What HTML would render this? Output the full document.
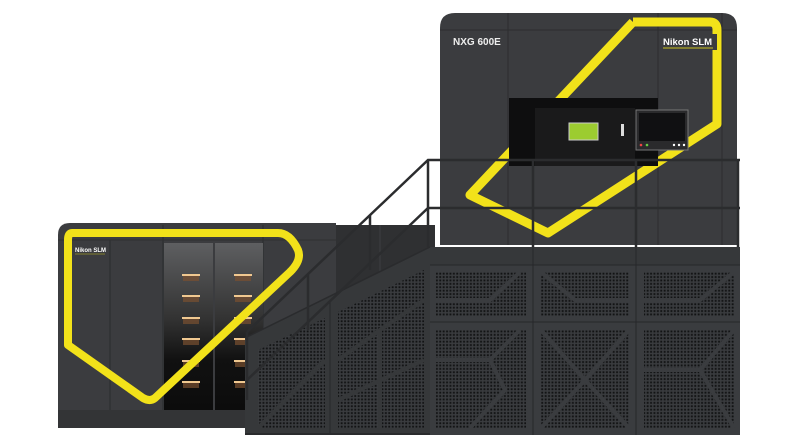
<!DOCTYPE html>
<html><head><style>html,body{margin:0;padding:0;background:#fff}svg{display:block}</style></head>
<body>
<svg width="800" height="445" viewBox="0 0 800 445" xmlns="http://www.w3.org/2000/svg">
<defs>
<pattern id="dots" width="3.4" height="3.4" patternUnits="userSpaceOnUse"><rect width="3.4" height="3.4" fill="#3a3c3f"/><rect x="0.7" y="0.7" width="1.9" height="1.9" fill="#121314"/></pattern>
<linearGradient id="glass" x1="0" y1="0" x2="0" y2="1"><stop offset="0" stop-color="#5e5f61"/><stop offset="0.45" stop-color="#333"/><stop offset="0.7" stop-color="#111"/><stop offset="1" stop-color="#0c0c0c"/></linearGradient>
</defs>
<rect width="800" height="445" fill="#fff"/>
<path d="M440 245 V28 Q440 13 455 13 H722 Q737 13 737 28 V245 Z" fill="#3b3c3f"/>
<line x1="440" y1="30" x2="737" y2="30" stroke="#2c2d2f" stroke-width="1"/>
<line x1="508" y1="13" x2="508" y2="245" stroke="#2c2d2f"/>
<line x1="658" y1="13" x2="658" y2="245" stroke="#2c2d2f"/>
<line x1="722" y1="13" x2="722" y2="245" stroke="#2c2d2f"/>
<path d="M633 22 H710 Q717 22 717 30 V124 L548 233 L470 195 L633 22" fill="none" stroke="#f2e21a" stroke-width="9" stroke-linejoin="round"/>
<text x="453" y="45" font-family="Liberation Sans,sans-serif" font-weight="bold" font-size="10" fill="#eee">NXG 600E</text>
<rect x="661" y="34" width="56" height="16" fill="#3b3c3f"/>
<text x="663" y="45" font-family="Liberation Sans,sans-serif" font-weight="bold" font-size="9.5" fill="#fff">Nikon SLM</text>
<line x1="663" y1="48" x2="713" y2="48" stroke="#c8c020" stroke-width="1"/>
<rect x="509" y="98" width="149" height="68" fill="#0e0e0f"/>
<rect x="535" y="108" width="100" height="58" fill="#1a1a1b"/>
<rect x="569" y="123" width="29" height="17" fill="#9ccc30" stroke="#ccc" stroke-width="1"/>
<rect x="621" y="124" width="3" height="12" fill="#ddd"/>
<rect x="636" y="110" width="52" height="40" fill="#2a2a2c" stroke="#777" stroke-width="1"/>
<rect x="639" y="113" width="46" height="28" fill="#101012"/>
<circle cx="641" cy="145" r="1.3" fill="#e44"/><circle cx="647" cy="145" r="1.3" fill="#6c4"/>
<circle cx="674" cy="145" r="1.2" fill="#fff"/><circle cx="679" cy="145" r="1.2" fill="#fff"/><circle cx="684" cy="145" r="1.2" fill="#fff"/>
<rect x="330" y="225" width="105" height="110" fill="#2f3032"/>
<line x1="380" y1="225" x2="380" y2="330" stroke="#3d3e41"/>
<path d="M58 425 V235 Q58 223 70 223 H336 V425 Z" fill="#3b3c3f"/>
<rect x="58" y="410" width="290" height="18" fill="#333436"/>
<line x1="110" y1="240" x2="110" y2="410" stroke="#2a2b2d"/>
<line x1="163" y1="225" x2="163" y2="410" stroke="#2a2b2d"/>
<line x1="263" y1="225" x2="263" y2="410" stroke="#2a2b2d"/>
<line x1="58" y1="240" x2="336" y2="240" stroke="#2f3032"/>
<rect x="164" y="243" width="49" height="167" fill="url(#glass)"/>
<rect x="215" y="243" width="48" height="167" fill="url(#glass)"/>
<g fill="#f0c890">
<rect x="182" y="274" width="18" height="2"/><rect x="234" y="274" width="18" height="2"/>
<rect x="182" y="295" width="18" height="2"/><rect x="234" y="295" width="18" height="2"/>
<rect x="182" y="317" width="18" height="2"/><rect x="234" y="317" width="18" height="2"/>
<rect x="182" y="338" width="18" height="2"/><rect x="234" y="338" width="18" height="2"/>
<rect x="182" y="360" width="18" height="2"/><rect x="234" y="360" width="18" height="2"/>
<rect x="182" y="381" width="18" height="2"/><rect x="234" y="381" width="18" height="2"/>
</g>
<g fill="#7a5030" opacity="0.7">
<rect x="183" y="276" width="16" height="5"/><rect x="235" y="276" width="16" height="5"/>
<rect x="183" y="297" width="16" height="5"/><rect x="235" y="297" width="16" height="5"/>
<rect x="183" y="319" width="16" height="5"/><rect x="235" y="319" width="16" height="5"/>
<rect x="183" y="340" width="16" height="5"/><rect x="235" y="340" width="16" height="5"/>
<rect x="183" y="362" width="16" height="5"/><rect x="235" y="362" width="16" height="5"/>
<rect x="183" y="383" width="16" height="5"/><rect x="235" y="383" width="16" height="5"/>
</g>
<text x="75" y="252" font-family="Liberation Sans,sans-serif" font-weight="bold" font-size="6" fill="#fff">Nikon SLM</text>
<line x1="75" y1="254" x2="105" y2="254" stroke="#c8c020" stroke-width="0.6"/>
<path d="M72 233 H278 Q290 233 298 250 Q302 260 290 272 L155 398 Q150 402 143 398 L68 345 V240 Q68 233 72 233" fill="none" stroke="#f2e21a" stroke-width="8" stroke-linejoin="round"/>
<rect x="428" y="247" width="312" height="188" fill="#3a3c3f"/>
<rect x="428" y="247" width="312" height="18" fill="#36383a"/>
<g stroke="#26272a" stroke-width="1">
<line x1="428" y1="265" x2="740" y2="265"/><line x1="428" y1="322" x2="740" y2="322"/>
<line x1="533" y1="247" x2="533" y2="435"/><line x1="636" y1="247" x2="636" y2="435"/>
</g>
<g fill="url(#dots)">
<rect x="436" y="272" width="90" height="44"/><rect x="541" y="272" width="88" height="44"/><rect x="644" y="272" width="90" height="44"/>
<rect x="436" y="330" width="90" height="98"/><rect x="541" y="330" width="88" height="98"/><rect x="644" y="330" width="90" height="98"/>
</g>
<g stroke="#3a3c3f" stroke-width="4" fill="none">
<path d="M436 300 H490 L520 272"/><path d="M541 272 L575 300 H629"/><path d="M644 300 H700 L734 272"/>
<path d="M436 360 H490 L520 330 M490 360 L505 390 L470 428"/>
<path d="M541 330 L585 380 L541 428 M585 380 L629 330 M585 380 L629 428"/>
<path d="M644 370 H700 L734 330 M700 370 L734 428"/>
</g>
<path d="M245 435 V338 L430 247 V435 Z" fill="#36383a"/>
<line x1="245" y1="338" x2="430" y2="247" stroke="#2a2b2d" stroke-width="1.5"/>
<line x1="330" y1="300" x2="330" y2="435" stroke="#26272a"/>
<path d="M258 428 L258 350 L325 318 V428 Z" fill="url(#dots)"/>
<path d="M338 428 V312 L424 270 V428 Z" fill="url(#dots)"/>
<g stroke="#36383a" stroke-width="4" fill="none">
<path d="M258 428 L325 360"/><path d="M338 360 L380 330 L424 300 M380 330 L380 428 M338 400 L424 360"/>
</g>
<line x1="245" y1="434" x2="430" y2="434" stroke="#2a2b2d" stroke-width="2"/>
<g stroke="#2b2c2e" stroke-width="2.5" fill="none">
<path d="M247 332 L428 160 H740"/>
<path d="M247 380 L428 208 H740"/>
<line x1="247" y1="332" x2="247" y2="400"/>
<line x1="308" y1="274" x2="308" y2="330"/>
<line x1="370" y1="215" x2="370" y2="270"/>
<line x1="428" y1="160" x2="428" y2="247"/>
<line x1="533" y1="160" x2="533" y2="247"/>
<line x1="636" y1="160" x2="636" y2="247"/>
<line x1="738" y1="160" x2="738" y2="247"/>
</g>
</svg>
</body></html>
